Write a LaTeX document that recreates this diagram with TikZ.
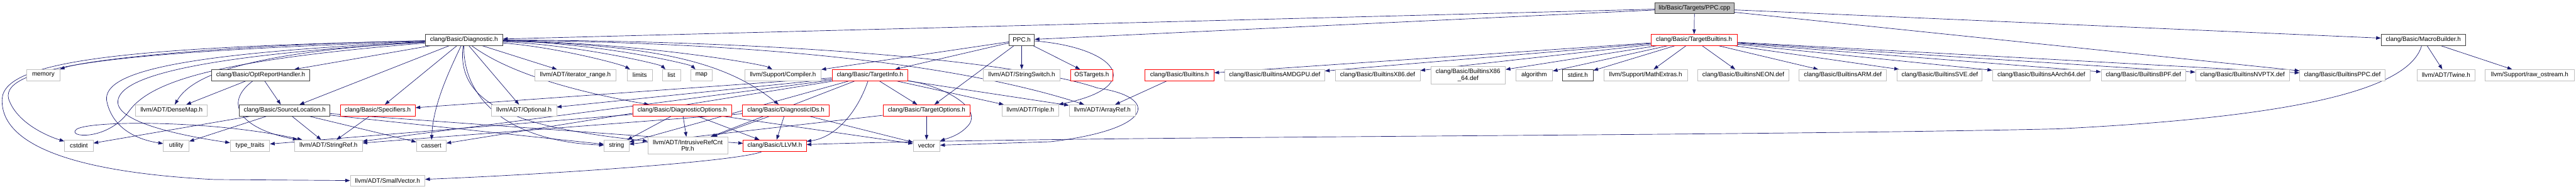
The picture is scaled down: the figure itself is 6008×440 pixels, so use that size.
\documentclass[tikz,border=0pt]{standalone}
\usepackage{fontspec}
\setmainfont{Liberation Sans}
\usetikzlibrary{arrows.meta, backgrounds}

\definecolor{edgeblue}{HTML}{191970}
\definecolor{boxgray}{HTML}{BFBFBF}
\definecolor{boxdark}{HTML}{404040}

\tikzset{
  sysbox/.style={draw=boxgray, fill=white, line width=1.2pt, minimum height=26pt,
    inner sep=0pt, align=center, font=\fontsize{14.5}{15.5}\selectfont},
  incbox/.style={sysbox, draw=boxdark},
  redbox/.style={sysbox, draw=red},
  rootbox/.style={sysbox, draw=boxdark, fill=boxgray},
  dep/.style={-{Triangle[length=11pt,width=8pt]}, edgeblue, line width=1pt}
}

\begin{document}
\begin{tikzpicture}[x=1pt, y=-1pt]
  \useasboundingbox (0,0) rectangle (6008,440);

  % the file itself
  \node[rootbox, minimum width=184pt] (ppccpp) at (3952,19) {lib/Basic/Targets/PPC.cpp};

  % first level
  \node[incbox, minimum width=181pt] (diag) at (1082,93) {clang/Basic/Diagnostic.h};
  \node[incbox, minimum width=59pt] (ppch) at (2383,93) {PPC.h};
  \node[redbox, minimum width=201pt] (tbuiltins) at (3951,93) {clang/Basic/TargetBuiltins.h};
  \node[incbox, minimum width=197pt] (macro) at (5652,93) {clang/Basic/MacroBuilder.h};

  % second level
  \node[sysbox, minimum width=78pt] (memory) at (101,175) {memory};
  \node[incbox, minimum width=229pt] (optrep) at (608,175) {clang/Basic/OptReportHandler.h};
  \node[sysbox, minimum width=190pt] (itrange) at (1342,175) {llvm/ADT/iterator\_range.h};
  \node[sysbox, minimum width=58pt] (limits) at (1492,175) {limits};
  \node[sysbox, minimum width=43pt] (list) at (1566,175) {list};
  \node[sysbox, minimum width=51pt] (map) at (1636,175) {map};
  \node[sysbox, minimum width=178pt] (compiler) at (1826,175) {llvm/Support/Compiler.h};
  \node[redbox, minimum width=177pt] (tinfo) at (2029,175) {clang/Basic/TargetInfo.h};
  \node[sysbox, minimum width=179pt] (strswitch) at (2383,175) {llvm/ADT/StringSwitch.h};
  \node[redbox, minimum width=99pt] (ostargets) at (2546,175) {OSTargets.h};
  \node[redbox, minimum width=161pt] (builtins) at (2751,175) {clang/Basic/Builtins.h};
  \node[sysbox, minimum width=233pt] (amdgpu) at (2973,175) {clang/Basic/BuiltinsAMDGPU.def};
  \node[sysbox, minimum width=198pt] (xeightysix) at (3213,175) {clang/Basic/BuiltinsX86.def};
  \node[sysbox, minimum width=174pt, minimum height=41pt] (xsixtyfour) at (3424,175.5) {clang/Basic/BuiltinsX86\\\_64.def};
  \node[sysbox, minimum width=86pt] (algorithm) at (3578,175) {algorithm};
  \node[incbox, minimum width=71pt] (stdint) at (3680,175) {stdint.h};
  \node[sysbox, minimum width=195pt] (mathx) at (3838,175) {llvm/Support/MathExtras.h};
  \node[sysbox, minimum width=213pt] (neon) at (4066,175) {clang/Basic/BuiltinsNEON.def};
  \node[sysbox, minimum width=204pt] (arm) at (4298,175) {clang/Basic/BuiltinsARM.def};
  \node[sysbox, minimum width=198pt] (sve) at (4524,175) {clang/Basic/BuiltinsSVE.def};
  \node[sysbox, minimum width=228pt] (aarch) at (4761,175) {clang/Basic/BuiltinsAArch64.def};
  \node[sysbox, minimum width=197pt] (bpf) at (4999,175) {clang/Basic/BuiltinsBPF.def};
  \node[sysbox, minimum width=219pt] (nvptx) at (5230,175) {clang/Basic/BuiltinsNVPTX.def};
  \node[sysbox, minimum width=199pt] (bppc) at (5463,175) {clang/Basic/BuiltinsPPC.def};
  \node[sysbox, minimum width=135pt] (twine) at (5705,175) {llvm/ADT/Twine.h};
  \node[sysbox, minimum width=207pt] (rawos) at (5900,175) {llvm/Support/raw\_ostream.h};

  % third level
  \node[sysbox, minimum width=167pt] (densemap) at (400,257) {llvm/ADT/DenseMap.h};
  \node[incbox, minimum width=211pt] (srcloc) at (664,257) {clang/Basic/SourceLocation.h};
  \node[redbox, minimum width=175pt] (specifiers) at (881,257) {clang/Basic/Specifiers.h};
  \node[sysbox, minimum width=152pt] (optional) at (1222,257) {llvm/ADT/Optional.h};
  \node[redbox, minimum width=231pt] (diagopts) at (1591,257) {clang/Basic/DiagnosticOptions.h};
  \node[redbox, minimum width=202pt] (diagids) at (1833,257) {clang/Basic/DiagnosticIDs.h};
  \node[redbox, minimum width=203pt] (topts) at (2161,257) {clang/Basic/TargetOptions.h};
  \node[sysbox, minimum width=133pt] (triple) at (2403,257) {llvm/ADT/Triple.h};
  \node[sysbox, minimum width=155pt] (arrayref) at (2571,257) {llvm/ADT/ArrayRef.h};

  % fourth level
  \node[sysbox, minimum width=67pt] (cstdint) at (184,339) {cstdint};
  \node[sysbox, minimum width=60pt] (utility) at (411,339) {utility};
  \node[sysbox, minimum width=92pt] (typetraits) at (583,339) {type\_traits};
  \node[sysbox, minimum width=158pt] (stringref) at (766,339) {llvm/ADT/StringRef.h};
  \node[sysbox, minimum width=69pt] (cassert) at (1006,339) {cassert};
  \node[sysbox, minimum width=58pt] (string) at (1438,339) {string};
  \node[sysbox, minimum width=186pt, minimum height=40pt] (intrusive) at (1604,339) {llvm/ADT/IntrusiveRefCnt\\Ptr.h};
  \node[redbox, minimum width=147pt] (llvmh) at (1807,339) {clang/Basic/LLVM.h};
  \node[sysbox, minimum width=62pt] (vector) at (2161,339) {vector};

  % last level
  \node[sysbox, minimum width=174pt] (smallvec) at (904,421) {llvm/ADT/SmallVector.h};

  \begin{scope}[on background layer]
    % from the cpp file
    \draw[dep] (ppccpp) -- (tbuiltins);
    \draw[dep] (ppccpp) -- (diag);
    \draw[dep] (ppccpp) -- (ppch);
    \draw[dep] (ppccpp) -- (macro);
    \draw[dep] (ppccpp) -- (bppc);

    % Diagnostic.h
    \draw[dep] (diag) .. controls (500,105) and (200,140) .. (memory);
    \draw[dep] (diag) -- (optrep);
    \draw[dep] (diag) .. controls (600,120) and (450,170) .. (densemap);
    \draw[dep] (diag) -- (srcloc);
    \draw[dep] (diag) -- (specifiers);
    \draw[dep] (diag) .. controls (1040,180) and (1010,250) .. (cassert);
    \draw[dep] (diag) .. controls (1080,240) and (1200,330) .. (string);
    \draw[dep] (diag) .. controls (1060,260) and (1250,300) .. (intrusive);
    \draw[dep] (diag) -- (optional);
    \draw[dep] (diag) -- (itrange);
    \draw[dep] (diag) .. controls (1300,110) and (1450,150) .. (limits);
    \draw[dep] (diag) .. controls (1350,105) and (1540,150) .. (list);
    \draw[dep] (diag) .. controls (1400,100) and (1610,150) .. (map);
    \draw[dep] (diag) .. controls (1500,100) and (1780,150) .. (compiler);
    \draw[dep] (diag) .. controls (1550,105) and (1700,150) .. (diagids);
    \draw[dep] (diag) .. controls (1200,180) and (1380,220) .. (diagopts);
    \draw[dep] (diag) .. controls (1900,100) and (2300,170) .. (arrayref);
    \draw[dep] (diag) .. controls (1900,95) and (2400,150) .. (2560,205)
      .. controls (2700,225) and (2700,300) .. (2450,330) -- (vector);
    \draw[dep] (diag) .. controls (300,120) and (0,150) .. (20,230)
      .. controls (40,290) and (120,320) .. (cstdint);
    \draw[dep] (diag) .. controls (300,110) and (10,140) .. (5,230)
      .. controls (0,330) and (150,400) .. (500,418) -- (smallvec);
    \draw[dep] (diag) .. controls (400,125) and (230,170) .. (250,240)
      .. controls (265,300) and (320,325) .. (utility);
    \draw[dep] (diag) .. controls (450,130) and (270,180) .. (275,240)
      .. controls (280,290) and (450,320) .. (typetraits);
    \draw[dep] (diag) .. controls (500,140) and (350,190) .. (300,260)
      .. controls (250,330) and (150,320) .. (180,300)
      .. controls (220,280) and (500,280) .. (stringref);

    % OptReportHandler.h and SourceLocation.h
    \draw[dep] (optrep) -- (densemap);
    \draw[dep] (optrep) -- (srcloc);
    \draw[dep] (optrep) .. controls (520,240) and (560,300) .. (stringref);
    \draw[dep] (srcloc) -- (cstdint);
    \draw[dep] (srcloc) -- (utility);
    \draw[dep] (srcloc) -- (stringref);
    \draw[dep] (srcloc) -- (cassert);
    \draw[dep] (srcloc) -- (string);
    \draw[dep] (srcloc) -- (llvmh);
    \draw[dep] (specifiers) -- (stringref);

    % PPC.h
    \draw[dep] (ppch) -- (strswitch);
    \draw[dep] (ppch) -- (ostargets);
    \draw[dep] (ppch) -- (tinfo);
    \draw[dep] (ppch) -- (compiler);
    \draw[dep] (ppch) -- (topts);
    \draw[dep] (ppch) .. controls (2600,110) and (2680,200) .. (triple);

    % TargetInfo.h
    \draw[dep] (tinfo) -- (specifiers);
    \draw[dep] (tinfo) -- (optional);
    \draw[dep] (tinfo) -- (stringref);
    \draw[dep] (tinfo) -- (cassert);
    \draw[dep] (tinfo) -- (string);
    \draw[dep] (tinfo) -- (intrusive);
    \draw[dep] (tinfo) .. controls (2000,260) and (1950,320) .. (llvmh);
    \draw[dep] (tinfo) -- (topts);
    \draw[dep] (tinfo) -- (triple);
    \draw[dep] (tinfo) -- (arrayref);
    \draw[dep] (tinfo) .. controls (2200,200) and (2290,250) .. (2260,290)
      .. controls (2240,315) and (2210,322) .. (vector);

    % diagnostic options and ids
    \draw[dep] (diagopts) -- (typetraits);
    \draw[dep] (diagopts) -- (intrusive);
    \draw[dep] (diagopts) -- (llvmh);
    \draw[dep] (diagopts) -- (vector);
    \draw[dep] (diagopts) -- (string);
    \draw[dep] (diagids) -- (intrusive);
    \draw[dep] (diagids) -- (llvmh);
    \draw[dep] (diagids) -- (vector);
    \draw[dep] (diagids) -- (stringref);
    \draw[dep] (topts) -- (vector);
    \draw[dep] (topts) -- (string);
    \draw[dep] (llvmh) .. controls (1730,375) and (1300,405) .. (smallvec);
    \draw[dep] (builtins) -- (arrayref);

    % TargetBuiltins.h
    \draw[dep] (tbuiltins) -- (builtins);
    \draw[dep] (tbuiltins) -- (amdgpu);
    \draw[dep] (tbuiltins) -- (xeightysix);
    \draw[dep] (tbuiltins) -- (xsixtyfour);
    \draw[dep] (tbuiltins) -- (algorithm);
    \draw[dep] (tbuiltins) -- (stdint);
    \draw[dep] (tbuiltins) -- (mathx);
    \draw[dep] (tbuiltins) -- (neon);
    \draw[dep] (tbuiltins) -- (arm);
    \draw[dep] (tbuiltins) -- (sve);
    \draw[dep] (tbuiltins) -- (aarch);
    \draw[dep] (tbuiltins) -- (bpf);
    \draw[dep] (tbuiltins) -- (nvptx);
    \draw[dep] (tbuiltins) -- (bppc);

    % MacroBuilder.h
    \draw[dep] (macro) -- (twine);
    \draw[dep] (macro) -- (rawos);
    \draw[dep] (macro) .. controls (5620,200) and (5400,270) .. (4800,300)
      .. controls (4000,318) and (2500,316) .. (llvmh);
  \end{scope}
\end{tikzpicture}
\end{document}
